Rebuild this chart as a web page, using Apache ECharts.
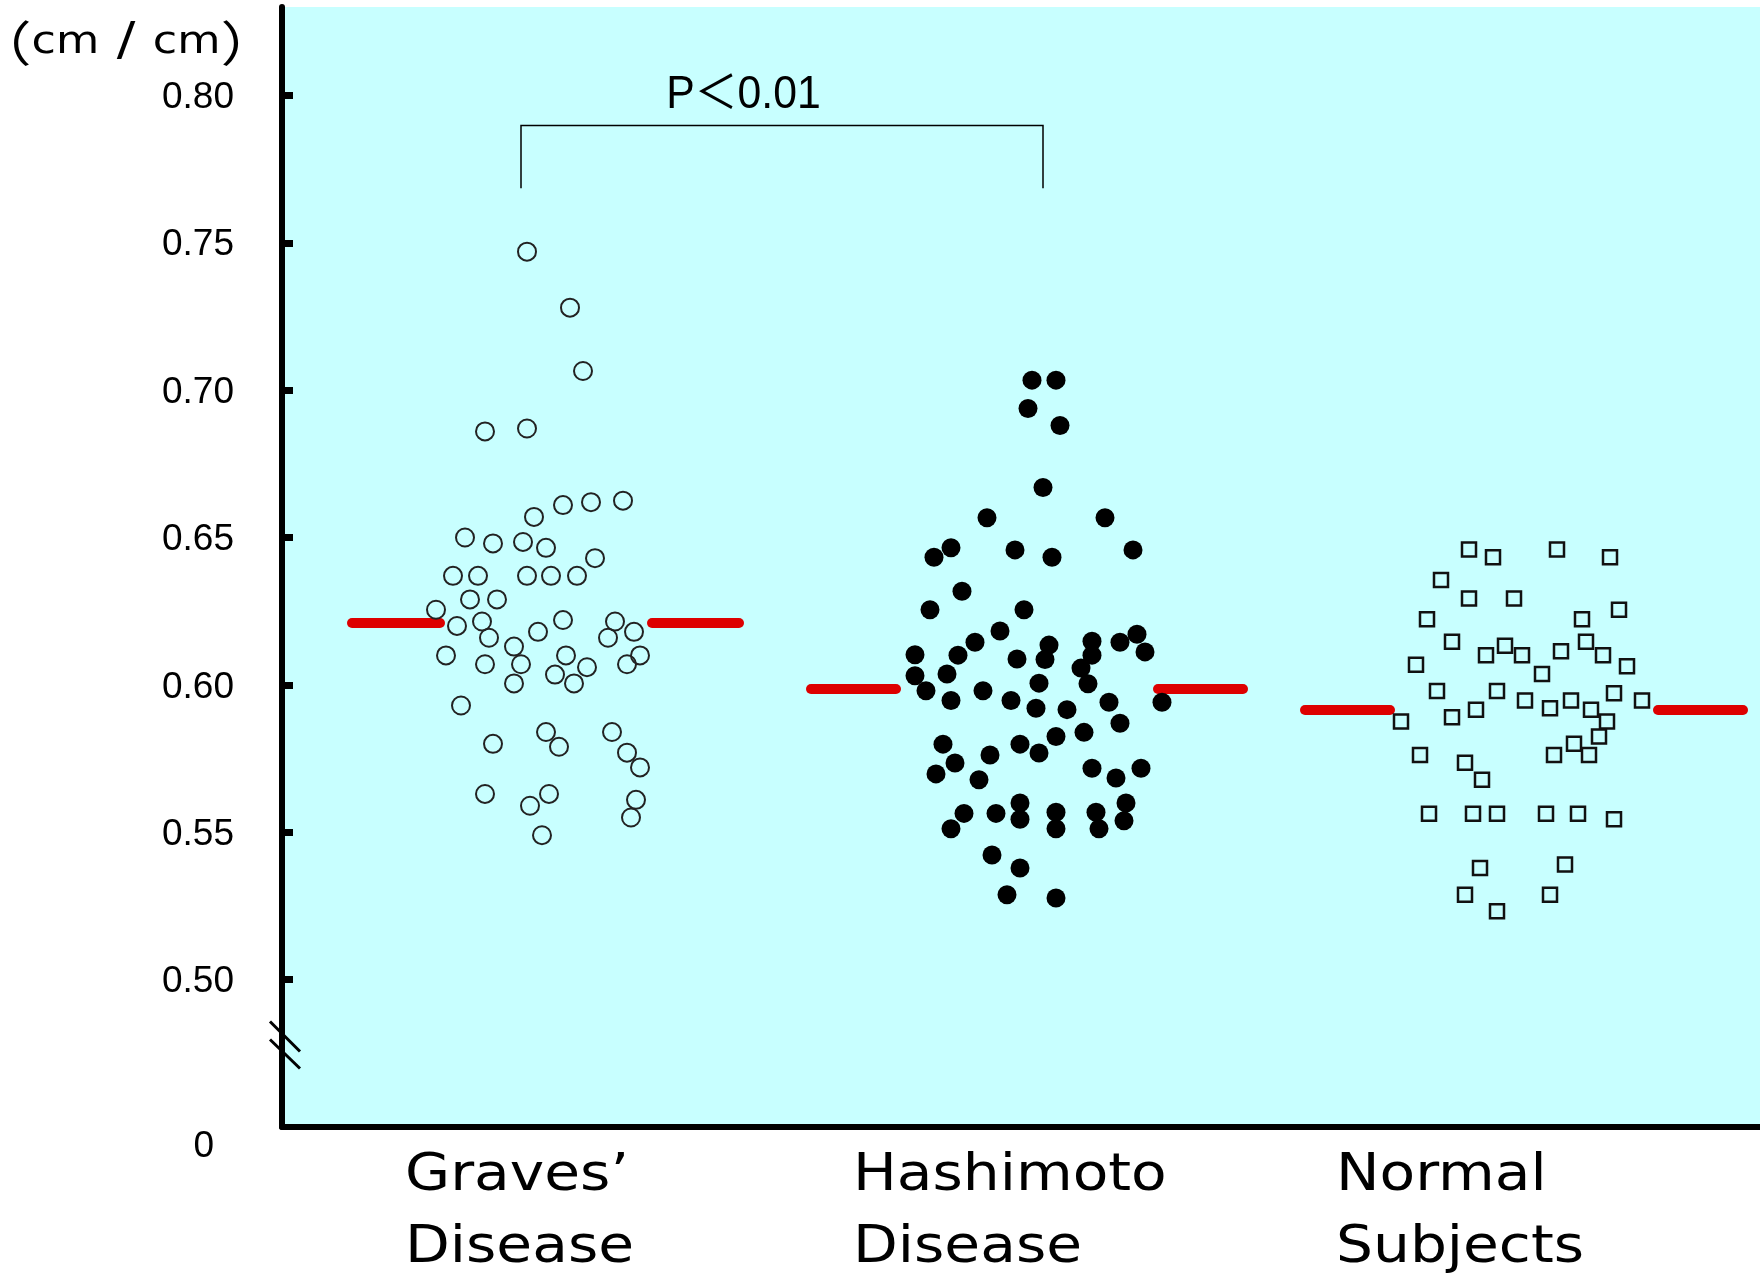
<!DOCTYPE html>
<html><head><meta charset="utf-8">
<script src="https://cdn.jsdelivr.net/npm/echarts@6/dist/echarts.min.js"></script>
<style>html,body{margin:0;padding:0;background:#fff}#c{width:1760px;height:1280px}</style>
</head><body><div id="c"></div>
<script>
// ---- data ----
const categories = ['Graves\u2019\nDisease', 'Hashimoto\nDisease', 'Normal\nSubjects'];
const yTickValues = [0.45, 0.50, 0.55, 0.60, 0.65, 0.70, 0.75, 0.80];
const yTickLabels = ['0', '0.50', '0.55', '0.60', '0.65', '0.70', '0.75', '0.80'];
const pText = 'P\uFF1C0.01';

const gravesX = [24.5,28.8,30.1,20.3,24.5,25.2,28.1,30.9,34.1,18.3,21.1,24.1,26.4,31.3,17.1,19.6,24.5,26.9,29.5,18.8,21.5,15.4,17.5,20.0,20.7,23.2,25.6,28.1,33.3,32.6,35.2,16.4,20.3,23.9,23.2,28.4,27.3,29.2,30.5,34.5,35.8,17.9,21.1,26.4,27.7,33.0,34.5,35.8,20.3,24.8,26.7,35.4,34.9,26.0];
const gravesY = [0.747,0.728,0.7065,0.686,0.687,0.657,0.661,0.662,0.6625,0.650,0.648,0.6485,0.6465,0.643,0.637,0.637,0.637,0.637,0.637,0.629,0.629,0.6255,0.620,0.6215,0.616,0.613,0.618,0.622,0.6215,0.616,0.618,0.610,0.607,0.607,0.6005,0.610,0.6035,0.6005,0.606,0.607,0.610,0.593,0.580,0.584,0.579,0.584,0.577,0.572,0.563,0.559,0.563,0.561,0.555,0.549];

const hashiX = [75.0,77.4,74.6,77.8,76.1,70.5,82.3,66.9,65.2,73.3,77.0,85.1,68.0,64.8,74.2,71.8,69.3,76.7,81.0,83.8,85.5,63.3,67.6,73.5,76.3,81.0,86.3,63.3,66.5,79.9,80.6,75.7,64.4,70.1,66.9,72.9,75.4,78.5,82.7,88.0,83.8,66.1,73.8,77.4,80.2,70.8,75.7,67.3,65.4,69.7,81.0,83.4,85.9,73.8,73.8,68.2,71.4,66.9,77.4,77.4,81.4,81.7,84.4,84.2,71.0,73.8,72.5,77.4];
const hashiY = [0.7034,0.7034,0.6938,0.688,0.667,0.6567,0.6567,0.6465,0.6433,0.6458,0.6433,0.6458,0.6318,0.6255,0.6255,0.6183,0.6145,0.6135,0.6148,0.6145,0.6172,0.6102,0.6101,0.6088,0.6086,0.6101,0.6112,0.6031,0.6037,0.6057,0.6004,0.6006,0.598,0.598,0.5947,0.5947,0.5921,0.5916,0.5941,0.5941,0.587,0.5799,0.5799,0.5825,0.5839,0.5762,0.5769,0.5735,0.5698,0.5678,0.5717,0.5684,0.5717,0.5599,0.5544,0.5564,0.5564,0.5512,0.5568,0.5512,0.5568,0.5512,0.5599,0.5539,0.5423,0.5379,0.5288,0.5277];

const normalX = [118.7,121.1,127.5,132.8,115.9,118.7,123.2,114.5,130.0,133.7,117.0,120.4,122.3,124.0,127.9,130.4,132.1,113.4,126.0,134.5,115.5,121.5,124.3,128.9,133.2,136.0,119.4,126.8,130.9,117.0,111.9,132.5,131.7,129.2,130.7,127.2,113.8,118.3,120.0,114.7,119.1,121.5,126.4,129.6,133.2,119.8,128.3,118.3,126.8,121.5];
const normalY = [0.6459,0.6433,0.6459,0.6433,0.6356,0.6293,0.6293,0.6223,0.6223,0.6255,0.6146,0.6101,0.6133,0.6101,0.6114,0.6146,0.6101,0.6068,0.6037,0.6063,0.5979,0.5979,0.5947,0.5947,0.5972,0.5947,0.5916,0.5921,0.5916,0.589,0.5876,0.5876,0.5825,0.580,0.5762,0.5762,0.5762,0.5736,0.5678,0.5563,0.5563,0.5563,0.5563,0.5563,0.5544,0.5379,0.5391,0.5288,0.5288,0.5232];

const groupMeans = [0.621, 0.5986, 0.5915];

// ---- layout (horizontal units of the hidden x axis) ----
const meanSegments = [
  [[7.0, 15.8], [37.0, 45.7]],
  [[52.9, 61.4], [87.6, 96.1]],
  [[102.3, 110.8], [137.6, 146.1]]
];
const labelX = [12.3, 57.1, 105.4];

const chart = echarts.init(document.getElementById('c'), null, {renderer: 'canvas'});
const pairs = (xs, ys) => xs.map((x, i) => [x, ys[i]]);

const meanLines = [];
meanSegments.forEach((segs, g) => segs.forEach(s => meanLines.push({coords: [[s[0], groupMeans[g]], [s[1], groupMeans[g]]]})));

const option = {
  animation: false,
  grid: {left: 282, right: 0, top: 7, bottom: 153, show: true, backgroundColor: '#c8ffff', borderWidth: 0},
  xAxis: {
    type: 'value', min: 0, max: 147.8,
    axisLine: {show: true, onZero: false, lineStyle: {color: '#000', width: 6}},
    axisTick: {show: false}, axisLabel: {show: false}, splitLine: {show: false}
  },
  yAxis: {
    type: 'value', min: 0.45, max: 0.83, interval: 0.05,
    axisLine: {show: true, onZero: false, lineStyle: {color: '#000', width: 6}},
    axisTick: {show: true, inside: true, length: 11, customValues: yTickValues.slice(1), lineStyle: {color: '#000', width: 7}},
    axisLabel: {
      customValues: yTickValues,
      fontSize: 37, fontFamily: 'Liberation Sans', color: '#000', margin: 48, padding: [5, 0, 0, 0],
      formatter: function (v) {
        const i = yTickValues.findIndex(t => Math.abs(t - v) < 1e-6);
        if (i < 0) return '';
        if (i === 0) return '{z|' + yTickLabels[0] + '}';
        return yTickLabels[i];
      },
      rich: {z: {fontSize: 37, fontFamily: 'Liberation Sans', color: '#000', padding: [34, 20, 0, 0]}}
    },
    splitLine: {show: false}
  },
  series: [
    {type: 'lines', coordinateSystem: 'cartesian2d', silent: true, z: 2,
     lineStyle: {color: '#dd0000', width: 10, cap: 'round', opacity: 1}, data: meanLines},
    {type: 'scatter', name: categories[0], symbol: 'circle', symbolSize: 18, z: 3,
     itemStyle: {color: 'rgba(0,0,0,0)', borderColor: '#222', borderWidth: 2, opacity: 1}, data: pairs(gravesX, gravesY)},
    {type: 'scatter', name: categories[1], symbol: 'circle', symbolSize: 19, z: 3,
     itemStyle: {color: '#000', opacity: 1}, data: pairs(hashiX, hashiY)},
    {type: 'scatter', name: categories[2], symbol: 'rect', symbolSize: 14, z: 3,
     itemStyle: {color: 'rgba(0,0,0,0)', borderColor: '#111', borderWidth: 2.5, opacity: 1}, data: pairs(normalX, normalY)}
  ]
};
chart.setOption(option);

const px = (x, y) => chart.convertToPixel({gridIndex: 0}, [x, y]);
const axisX = px(0, 0.5)[0];
const brk = px(0, 0.478);
const b1 = px(23.9, 0.7685), b2 = px(23.9, 0.7898), b3 = px(76.1, 0.7898), b4 = px(76.1, 0.7685);
const pPos = px(46.15, 0.8000);

const graphic = [
  {type: 'polyline', shape: {points: [b1, b2, b3, b4]}, style: {stroke: '#000', lineWidth: 1.5, fill: null}, z: 10},
  {type: 'text', x: pPos[0], y: pPos[1], scaleX: 0.93, z: 10,
   style: {text: pText, fontSize: 46, fontFamily: '"Liberation Sans", "Noto Sans CJK JP"', fill: '#000', align: 'center', verticalAlign: 'middle'}},
  {type: 'line', shape: {x1: axisX - 12, y1: brk[1] - 23, x2: axisX + 18, y2: brk[1] + 7}, style: {stroke: '#000', lineWidth: 3}, z: 10},
  {type: 'line', shape: {x1: axisX - 12, y1: brk[1] - 5, x2: axisX + 18, y2: brk[1] + 24}, style: {stroke: '#000', lineWidth: 3}, z: 10},
  {type: 'text', x: 126, y: 43, scaleX: 1.2, z: 10,
   style: {text: '{p|\uFF08}{t|cm}{s| / }{t|cm}{p|\uFF09}', fill: '#000', align: 'center', verticalAlign: 'middle',
     rich: {p: {fontSize: 48, fontFamily: 'Noto Sans CJK JP', fill: '#000'},
            t: {fontSize: 37, fontFamily: 'DejaVu Sans', fill: '#000'},
            s: {fontSize: 46, fontFamily: 'DejaVu Sans', fill: '#000'}}}}
];
categories.forEach((c, i) => {
  graphic.push({type: 'text', x: px(labelX[i], 0.5)[0], y: 1212, scaleX: 1.12, z: 10,
    style: {text: c, fontSize: 52, fontFamily: 'DejaVu Sans', lineHeight: 72, fill: '#000', align: 'left', verticalAlign: 'middle'}});
});
chart.setOption({graphic: graphic});
</script>
</body></html>
